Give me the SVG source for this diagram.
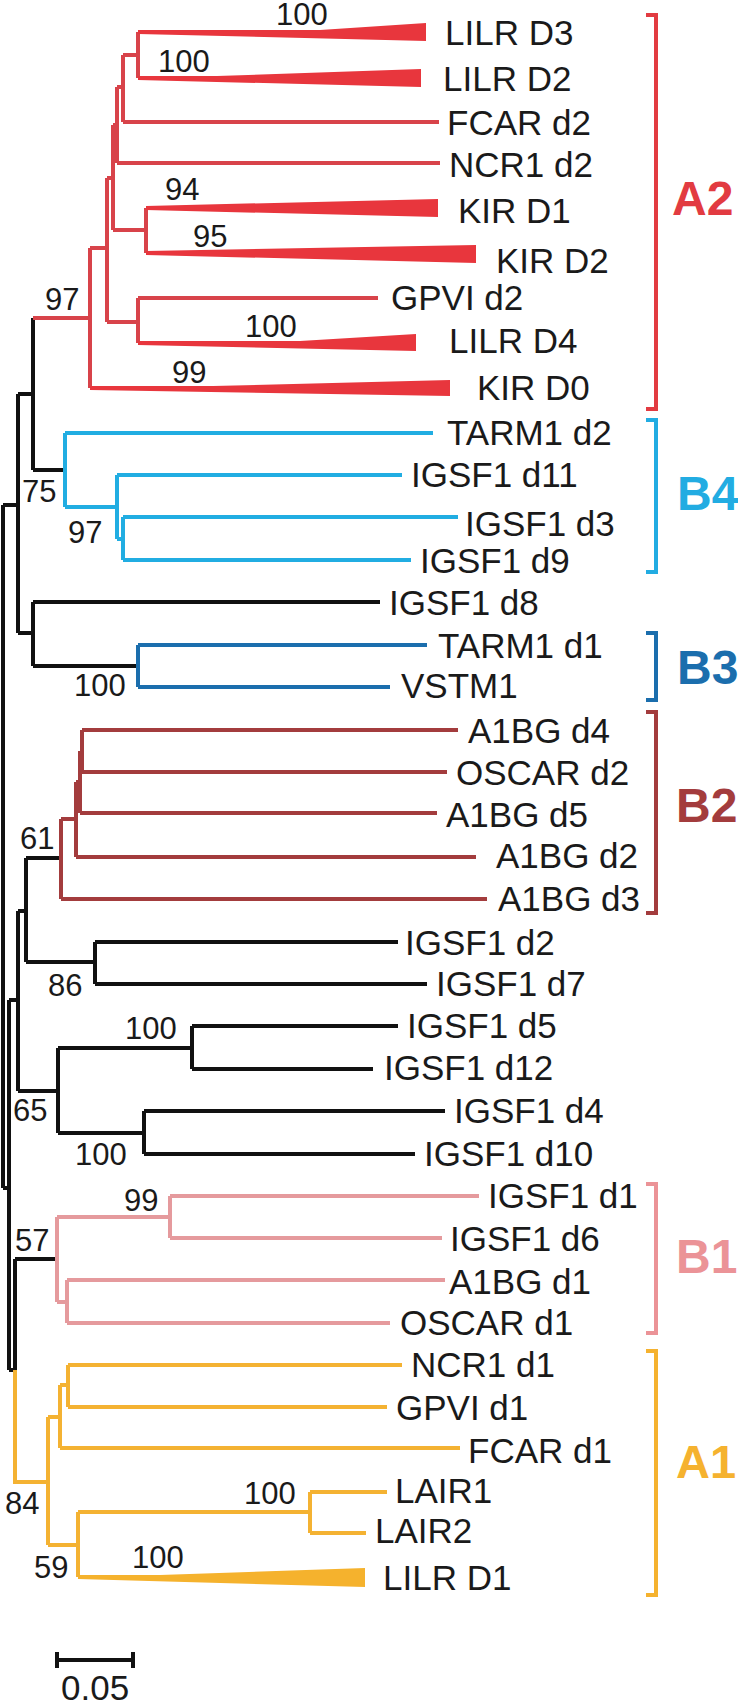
<svg xmlns="http://www.w3.org/2000/svg" width="738" height="1705" viewBox="0 0 738 1705">
<style>
.b{fill:none;stroke-width:4;stroke-linejoin:miter;stroke-linecap:butt}
.k{stroke:#111}
.r{stroke:#d8434a}
.lb{stroke:#21ade2}
.db{stroke:#1b6ead}
.br{stroke:#a33c3d}
.pk{stroke:#e59a9d}
.yl{stroke:#f4b232}
.tr{fill:#e8363d}
.ty{fill:#f5b22d}
text{font-family:"Liberation Sans",Arial,sans-serif;fill:#1a1a1a}
.lf{font-size:35px}
.bs{font-size:31px}
.cl{font-size:48px;font-weight:bold}
.bk{fill:none;stroke-width:4;stroke-linejoin:miter}
</style>
<rect width="738" height="1705" fill="#fff"/>
<g id="connectors">
<!-- black backbone -->
<path class="b k" d="M3,505 V1188"/>
<path class="b k" d="M3,505 H18 M18,394 V633 M18,394 H33 M33,318 V470 M33,470 H65 M18,633 H33 M33,602 V666 M33,602 H380 M33,666 H138"/>
<path class="b k" d="M3,1188 H9 M9,1000 V1370 M9,1000 H18 M18,911 V1091 M18,911 H26 M26,858 V962 M26,858 H61 M26,962 H95 M95,942 V984 M95,942 H398 M95,984 H427"/>
<path class="b k" d="M18,1091 H58 M58,1048 V1133 M58,1048 H192 M192,1026 V1069 M192,1026 H398 M192,1069 H373 M58,1133 H144 M144,1111 V1154 M144,1111 H445 M144,1154 H415"/>
<path class="b k" d="M9,1370 H15 M15,1259 V1370 M15,1259 H57"/>
<!-- A2 -->
<path class="b r" d="M33,318 H90 M90,248 V388 M90,248 H107 M107,178 V322 M107,322 H138 M138,298 V343 M138,298 H378 M107,178 H113 M113,125 V230 M113,230 H146 M146,208 V253 M113,125 H117 M117,87 V163 M117,163 H440 M117,87 H123 M123,55 V122 M123,122 H439 M123,55 H138 M138,32 V78"/>
<polygon class="tr" points="138,30 320,30 426,23 426,41 138,34"/>
<polygon class="tr" points="138,76 217,76 421,69 421,87 138,80"/>
<polygon class="tr" points="146,206 438,199 438,217 146,210"/>
<polygon class="tr" points="146,251 476,245 476,263 146,255"/>
<polygon class="tr" points="138,341 300,341 416,334 416,351 138,345"/>
<polygon class="tr" points="90,386 213,386 450,380 450,396 90,390"/>
<!-- B4 -->
<path class="b lb" d="M65,433 V507 M65,433 H433 M65,507 H117 M117,475 V539 M117,475 H402 M117,539 H123 M123,517 V560 M123,517 H458 M123,560 H411"/>
<!-- B3 -->
<path class="b db" d="M138,645 V687 M138,645 H427 M138,687 H390"/>
<!-- B2 -->
<path class="b br" d="M61,819 V899 M61,899 H487 M61,819 H76 M76,782 V857 M76,857 H476 M76,782 H80 M80,751 V813 M80,813 H437 M80,751 H82 M82,730 V772 M82,730 H458 M82,772 H447"/>
<!-- B1 -->
<path class="b pk" d="M57,1217 V1302 M57,1217 H170 M170,1196 V1238 M170,1196 H479 M170,1238 H442 M57,1302 H67 M67,1280 V1323 M67,1280 H445 M67,1323 H390"/>
<!-- A1 -->
<path class="b yl" d="M15,1370 V1482 H48 M48,1417 V1545 M48,1417 H60 M60,1385 V1448 M60,1448 H460 M60,1385 H68 M68,1365 V1407 M68,1365 H402 M68,1407 H387 M48,1545 H78 M78,1512 V1577 M78,1512 H310 M310,1492 V1533 M310,1492 H387 M310,1533 H366"/>
<polygon class="ty" points="78,1575 160,1575 365,1568 365,1587 78,1579"/>
</g>
<g id="leaves-A2">
<text class="lf" x="445" y="45">LILR D3</text>
<text class="lf" x="443" y="91">LILR D2</text>
<text class="lf" x="447" y="135">FCAR d2</text>
<text class="lf" x="449" y="177">NCR1 d2</text>
<text class="lf" x="458" y="223">KIR D1</text>
<text class="lf" x="496" y="273">KIR D2</text>
<text class="lf" x="391" y="310">GPVI d2</text>
<text class="lf" x="449" y="353">LILR D4</text>
<text class="lf" x="477" y="400">KIR D0</text>
</g>
<g id="leaves-B4">
<text class="lf" x="447" y="445">TARM1 d2</text>
<text class="lf" x="411" y="487">IGSF1 d11</text>
<text class="lf" x="465" y="536">IGSF1 d3</text>
<text class="lf" x="420" y="573">IGSF1 d9</text>
</g>
<g id="leaf-IGSF1-d8"><text class="lf" x="389" y="615">IGSF1 d8</text></g>
<g id="leaves-B3">
<text class="lf" x="438" y="658">TARM1 d1</text>
<text class="lf" x="401" y="698">VSTM1</text>
</g>
<g id="leaves-B2">
<text class="lf" x="468" y="743">A1BG d4</text>
<text class="lf" x="456" y="785">OSCAR d2</text>
<text class="lf" x="446" y="827">A1BG d5</text>
<text class="lf" x="496" y="868">A1BG d2</text>
<text class="lf" x="498" y="911">A1BG d3</text>
</g>
<g id="leaves-IGSF1">
<text class="lf" x="405" y="955">IGSF1 d2</text>
<text class="lf" x="436" y="996">IGSF1 d7</text>
<text class="lf" x="407" y="1038">IGSF1 d5</text>
<text class="lf" x="384" y="1080">IGSF1 d12</text>
<text class="lf" x="454" y="1123">IGSF1 d4</text>
<text class="lf" x="424" y="1166">IGSF1 d10</text>
</g>
<g id="leaves-B1">
<text class="lf" x="488" y="1208">IGSF1 d1</text>
<text class="lf" x="450" y="1251">IGSF1 d6</text>
<text class="lf" x="449" y="1294">A1BG d1</text>
<text class="lf" x="400" y="1335">OSCAR d1</text>
</g>
<g id="leaves-A1">
<text class="lf" x="411" y="1377">NCR1 d1</text>
<text class="lf" x="396" y="1420">GPVI d1</text>
<text class="lf" x="468" y="1463">FCAR d1</text>
<text class="lf" x="395" y="1503">LAIR1</text>
<text class="lf" x="375" y="1543">LAIR2</text>
<text class="lf" x="383" y="1590">LILR D1</text>
</g>
<g id="bootstrap">
<text class="bs" x="276" y="25">100</text>
<text class="bs" x="158" y="72">100</text>
<text class="bs" x="165" y="200">94</text>
<text class="bs" x="193" y="247">95</text>
<text class="bs" x="45" y="310">97</text>
<text class="bs" x="245" y="337">100</text>
<text class="bs" x="172" y="383">99</text>
<text class="bs" x="22" y="502">75</text>
<text class="bs" x="68" y="543">97</text>
<text class="bs" x="74" y="696">100</text>
<text class="bs" x="20" y="849">61</text>
<text class="bs" x="48" y="996">86</text>
<text class="bs" x="125" y="1039">100</text>
<text class="bs" x="13" y="1121">65</text>
<text class="bs" x="75" y="1165">100</text>
<text class="bs" x="124" y="1211">99</text>
<text class="bs" x="15" y="1251">57</text>
<text class="bs" x="244" y="1504">100</text>
<text class="bs" x="5" y="1514">84</text>
<text class="bs" x="132" y="1568">100</text>
<text class="bs" x="34" y="1578">59</text>
</g>
<g id="clade-A2">
<path class="bk" stroke="#e23b41" d="M646,15 H656 V409 H646"/>
<text class="cl" x="672" y="215" style="fill:#e23b41">A2</text>
</g>
<g id="clade-B4">
<path class="bk" stroke="#22ace2" d="M646,420 H656 V572 H646"/>
<text class="cl" x="677" y="510" style="fill:#22ace2">B4</text>
</g>
<g id="clade-B3">
<path class="bk" stroke="#1b6ead" d="M646,633 H656 V700 H646"/>
<text class="cl" x="677" y="684" style="fill:#1b6ead">B3</text>
</g>
<g id="clade-B2">
<path class="bk" stroke="#a33c3d" d="M646,712 H656 V913 H646"/>
<text class="cl" x="676" y="822" style="fill:#a33c3d">B2</text>
</g>
<g id="clade-B1">
<path class="bk" stroke="#eb9397" d="M646,1184 H656 V1333 H646"/>
<text class="cl" x="676" y="1273" style="fill:#eb9397">B1</text>
</g>
<g id="clade-A1">
<path class="bk" stroke="#f5b22f" d="M646,1351 H656 V1595 H646"/>
<text class="cl" x="676" y="1478" style="fill:#f5b22f;font-size:47px">A1</text>
</g>
<g id="scale-bar">
<path class="b k" d="M57,1660 H133 M57,1652 V1668 M133,1652 V1668"/>
<text class="lf" x="61" y="1700">0.05</text>
</g>
</svg>
